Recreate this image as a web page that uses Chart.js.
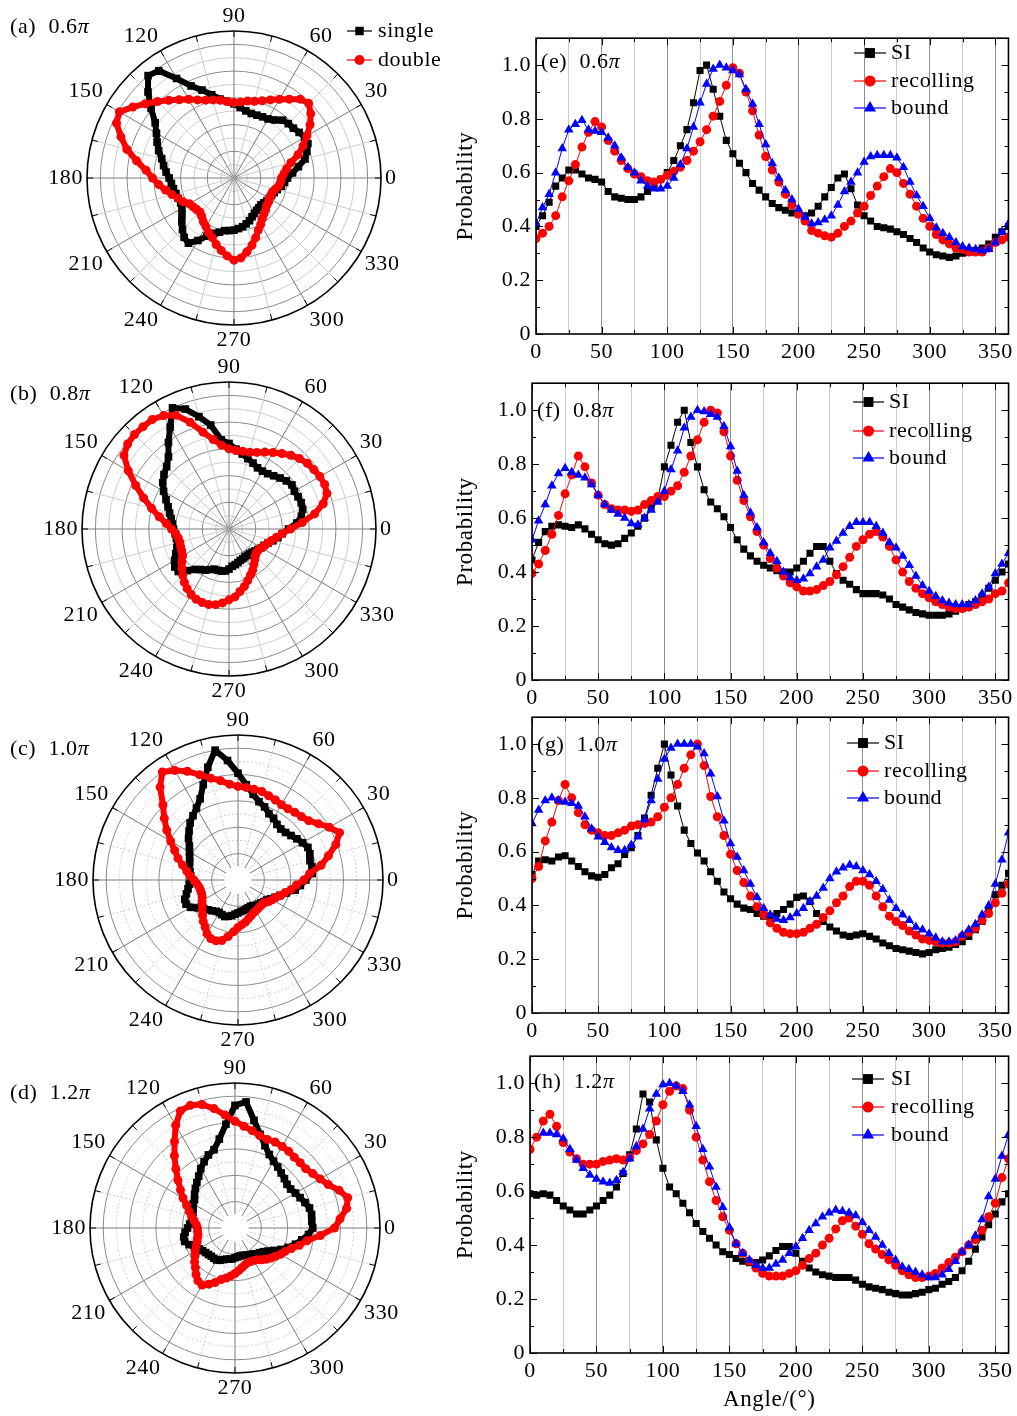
<!DOCTYPE html>
<html>
<head>
<meta charset="utf-8">
<script src="https://cdn.jsdelivr.net/npm/chart.js@4.4.1/dist/chart.umd.min.js"></script>
<style>
  body { margin: 0; background: #fff; }
  #wrap { position: relative; width: 1017px; height: 1416px; overflow: hidden; background: #fff; }
  canvas { position: absolute; }
</style>
</head>
<body>
<div id="wrap">
  <canvas id="pa"></canvas>
  <canvas id="pb"></canvas>
  <canvas id="pc"></canvas>
  <canvas id="pd"></canvas>
  <canvas id="le"></canvas>
  <canvas id="lf"></canvas>
  <canvas id="lg"></canvas>
  <canvas id="lh"></canvas>
</div>
<script>
// angle grid (degrees)
const angles = [0,5,10,15,20,25,30,35,40,45,50,55,60,65,70,75,80,85,90,95,
  100,105,110,115,120,125,130,135,140,145,150,155,160,165,170,175,180,185,190,195,
  200,205,210,215,220,225,230,235,240,245,250,255,260,265,270,275,280,285,290,295,
  300,305,310,315,320,325,330,335,340,345,350,355,360];

// (e) 0.6 pi
const siE = [0.40,0.44,0.49,0.55,0.58,0.61,0.61,0.595,0.58,0.575,
  0.565,0.53,0.51,0.505,0.50,0.50,0.51,0.53,0.555,0.575,
  0.60,0.645,0.70,0.76,0.86,0.98,1.0,0.91,0.81,0.72,
  0.67,0.635,0.60,0.56,0.535,0.51,0.485,0.47,0.46,0.45,
  0.445,0.44,0.45,0.475,0.51,0.545,0.58,0.595,0.54,0.48,
  0.44,0.42,0.40,0.395,0.39,0.38,0.37,0.355,0.34,0.32,
  0.305,0.295,0.29,0.285,0.29,0.30,0.305,0.31,0.32,0.335,
  0.36,0.38,0.40];
const recE = [0.355,0.375,0.40,0.44,0.51,0.57,0.63,0.695,0.75,0.79,
  0.77,0.72,0.68,0.645,0.615,0.595,0.585,0.57,0.565,0.575,
  0.59,0.605,0.62,0.645,0.68,0.715,0.76,0.81,0.865,0.925,
  0.99,0.97,0.90,0.83,0.74,0.66,0.61,0.565,0.52,0.48,
  0.445,0.42,0.385,0.375,0.365,0.36,0.375,0.40,0.42,0.45,
  0.475,0.515,0.55,0.585,0.615,0.60,0.56,0.52,0.475,0.43,
  0.40,0.37,0.35,0.335,0.32,0.315,0.305,0.305,0.305,0.32,
  0.34,0.35,0.36];
const boundE = [0.41,0.47,0.52,0.60,0.69,0.76,0.78,0.795,0.76,0.755,
  0.75,0.73,0.70,0.655,0.62,0.60,0.57,0.55,0.54,0.54,
  0.55,0.58,0.63,0.69,0.77,0.86,0.93,0.985,1.0,0.99,
  0.98,0.965,0.91,0.855,0.78,0.705,0.635,0.58,0.535,0.50,
  0.465,0.435,0.41,0.415,0.425,0.44,0.48,0.53,0.565,0.60,
  0.64,0.66,0.665,0.665,0.665,0.655,0.62,0.565,0.515,0.475,
  0.43,0.395,0.375,0.36,0.34,0.325,0.32,0.315,0.31,0.315,
  0.34,0.38,0.41];

// (f) 0.8 pi
const siF = [0.445,0.51,0.55,0.57,0.575,0.57,0.565,0.575,0.56,0.54,
  0.52,0.505,0.50,0.505,0.525,0.545,0.57,0.60,0.64,0.67,
  0.79,0.87,0.955,1.0,0.88,0.79,0.705,0.66,0.635,0.605,
  0.565,0.52,0.485,0.46,0.44,0.425,0.415,0.405,0.40,0.40,
  0.415,0.44,0.47,0.495,0.495,0.44,0.395,0.37,0.355,0.335,
  0.32,0.32,0.32,0.315,0.30,0.28,0.27,0.26,0.25,0.245,
  0.24,0.24,0.24,0.245,0.255,0.265,0.28,0.29,0.31,0.34,
  0.37,0.40,0.43];
const recF = [0.395,0.43,0.48,0.54,0.61,0.69,0.76,0.83,0.79,0.73,
  0.685,0.65,0.635,0.63,0.63,0.625,0.63,0.65,0.665,0.68,
  0.68,0.70,0.72,0.77,0.83,0.89,0.955,1.0,0.99,0.92,
  0.83,0.74,0.665,0.605,0.55,0.50,0.45,0.415,0.385,0.36,
  0.345,0.33,0.33,0.335,0.35,0.365,0.39,0.42,0.455,0.495,
  0.52,0.54,0.55,0.53,0.495,0.445,0.40,0.365,0.34,0.32,
  0.305,0.29,0.28,0.27,0.265,0.265,0.27,0.28,0.29,0.30,
  0.32,0.33,0.36];
const boundF = [0.52,0.59,0.65,0.72,0.765,0.785,0.77,0.76,0.75,0.725,
  0.685,0.65,0.63,0.615,0.60,0.58,0.575,0.60,0.63,0.66,
  0.70,0.78,0.85,0.935,0.975,1.0,0.995,0.985,0.975,0.94,
  0.865,0.775,0.685,0.62,0.565,0.51,0.47,0.44,0.40,0.38,
  0.37,0.375,0.395,0.42,0.445,0.49,0.515,0.545,0.57,0.585,
  0.585,0.585,0.57,0.545,0.51,0.49,0.46,0.425,0.385,0.35,
  0.33,0.31,0.295,0.285,0.28,0.28,0.28,0.295,0.32,0.345,
  0.395,0.43,0.47];
// (b) polar "double"
const doubleB = [0.46,0.55,0.65,0.73,0.78,0.79,0.785,0.775,0.765,0.745,
  0.72,0.69,0.66,0.635,0.61,0.595,0.59,0.59,0.60,0.63,
  0.68,0.75,0.85,0.94,0.98,1.0,1.0,1.0,0.99,0.96,
  0.87,0.77,0.68,0.60,0.53,0.47,0.43,0.40,0.385,0.38,
  0.385,0.39,0.40,0.43,0.46,0.49,0.52,0.545,0.565,0.58,
  0.585,0.585,0.575,0.555,0.53,0.51,0.475,0.445,0.41,0.38,
  0.355,0.325,0.30,0.28,0.27,0.27,0.28,0.295,0.31,0.33,
  0.36,0.40,0.46];

// (g) 1.0 pi
const siG = [0.515,0.565,0.57,0.565,0.58,0.585,0.565,0.545,0.525,0.51,
  0.505,0.515,0.54,0.555,0.59,0.615,0.66,0.725,0.81,0.91,
  1.0,0.885,0.77,0.68,0.63,0.595,0.565,0.525,0.49,0.45,
  0.425,0.405,0.39,0.385,0.37,0.36,0.36,0.37,0.385,0.405,
  0.43,0.435,0.415,0.37,0.34,0.32,0.305,0.29,0.285,0.29,
  0.295,0.285,0.275,0.26,0.25,0.24,0.235,0.23,0.225,0.22,
  0.225,0.235,0.24,0.245,0.255,0.265,0.285,0.31,0.34,0.38,
  0.44,0.475,0.52];
const recG = [0.50,0.545,0.64,0.71,0.79,0.85,0.80,0.745,0.70,0.68,
  0.67,0.66,0.66,0.67,0.68,0.695,0.70,0.705,0.71,0.73,
  0.765,0.80,0.85,0.91,0.96,1.0,0.92,0.805,0.73,0.66,
  0.59,0.53,0.485,0.435,0.395,0.365,0.335,0.315,0.30,0.295,
  0.295,0.30,0.315,0.33,0.355,0.38,0.41,0.435,0.47,0.49,
  0.49,0.475,0.435,0.395,0.36,0.34,0.325,0.305,0.29,0.275,
  0.27,0.265,0.26,0.26,0.265,0.285,0.30,0.315,0.345,0.37,
  0.41,0.445,0.48];
const boundG = [0.705,0.755,0.79,0.80,0.79,0.785,0.78,0.77,0.73,0.685,
  0.655,0.635,0.615,0.605,0.605,0.625,0.655,0.72,0.79,0.87,
  0.945,0.985,1.0,1.0,1.0,0.99,0.965,0.89,0.805,0.715,
  0.63,0.58,0.53,0.48,0.43,0.39,0.365,0.35,0.345,0.355,
  0.37,0.39,0.415,0.435,0.465,0.50,0.525,0.54,0.55,0.545,
  0.53,0.515,0.49,0.46,0.42,0.39,0.365,0.345,0.32,0.31,
  0.295,0.28,0.265,0.265,0.27,0.29,0.31,0.33,0.365,0.40,
  0.48,0.57,0.67];

// (h) 1.2 pi
const siH = [0.59,0.585,0.59,0.585,0.565,0.545,0.53,0.515,0.515,0.53,
  0.545,0.565,0.585,0.615,0.665,0.735,0.83,0.96,0.93,0.79,
  0.685,0.615,0.59,0.555,0.52,0.48,0.45,0.425,0.40,0.375,
  0.365,0.35,0.34,0.335,0.335,0.345,0.36,0.38,0.395,0.395,
  0.37,0.34,0.315,0.30,0.29,0.285,0.28,0.28,0.28,0.27,
  0.255,0.245,0.24,0.235,0.225,0.22,0.215,0.215,0.22,0.225,
  0.235,0.24,0.255,0.265,0.28,0.305,0.34,0.385,0.43,0.475,
  0.515,0.56,0.59];
const recH = [0.755,0.80,0.86,0.885,0.84,0.78,0.745,0.72,0.70,0.70,
  0.70,0.71,0.715,0.72,0.715,0.725,0.75,0.775,0.81,0.86,
  0.92,0.97,0.99,0.98,0.90,0.80,0.715,0.635,0.565,0.505,
  0.455,0.405,0.37,0.34,0.315,0.295,0.285,0.285,0.285,0.295,
  0.305,0.325,0.35,0.37,0.40,0.425,0.46,0.49,0.50,0.47,
  0.44,0.405,0.385,0.365,0.345,0.325,0.305,0.29,0.28,0.28,
  0.285,0.295,0.315,0.335,0.355,0.375,0.40,0.42,0.455,0.505,
  0.555,0.65,0.72];
const boundH = [null,null,0.815,0.815,0.81,0.795,0.755,0.715,0.685,0.66,
  0.645,0.635,0.63,0.64,0.67,0.72,0.765,0.83,0.905,0.96,
  0.995,1.0,0.99,0.97,0.92,0.84,0.755,0.69,0.615,0.54,
  0.465,0.405,0.37,0.345,0.325,0.315,0.315,0.33,0.345,0.37,
  0.395,0.425,0.455,0.48,0.505,0.52,0.53,0.525,0.52,0.51,
  0.485,0.455,0.43,0.40,0.37,0.345,0.32,0.31,0.30,0.29,
  0.28,0.28,0.29,0.31,0.34,0.375,0.40,0.435,0.495,0.58,
  0.645,0.73,0.81];

const xTicks = [0, 50, 100, 150, 200, 250, 300, 350];
const yTicks = [0, 0.2, 0.4, 0.6, 0.8, 1.0];
const polarTickLabels = [0, 30, 60, 90, 120, 150, 180, 210, 240, 270, 300, 330];

// radar goes clockwise from the right, so walk the angles backwards
const polarAngles = angles.slice(0, 72).map(a => (360 - a) % 360);
function polarValues(series) {
  return polarAngles.map(a => series[angles.indexOf(a)]);
}

const FONT = "'Liberation Serif', 'Times New Roman', serif";
const TXT = 22;
const SPACING = '0.6px';

function place(id, left, top, w, h) {
  const c = document.getElementById(id);
  c.width = w; c.height = h;
  c.style.left = left + 'px'; c.style.top = top + 'px';
  c.style.width = w + 'px'; c.style.height = h + 'px';
  return c;
}

// a bit of tracking so the Times-like face reads closer to the wider original
const spacing = {
  id: 'spacing',
  beforeDraw(chart) { chart.ctx.letterSpacing = SPACING; }
};

function panelLabel(ctx, head, x, y) {
  ctx.save();
  ctx.fillStyle = '#000';
  ctx.textBaseline = 'middle';
  ctx.textAlign = 'left';
  ctx.font = TXT + 'px ' + FONT;
  ctx.fillText(head, x, y);
  const w = ctx.measureText(head).width;
  ctx.font = 'italic ' + TXT + 'px ' + FONT;
  ctx.fillText('\u03c0', x + w, y);
  ctx.restore();
}

function marker(ctx, style, r, x, y, color) {
  ctx.save();
  ctx.fillStyle = color; ctx.strokeStyle = color;
  Chart.helpers.drawPoint(ctx, { pointStyle: style, radius: r, rotation: 0, borderWidth: 0 }, x, y);
  ctx.restore();
}

function legendRows(ctx, rows, x0, x1, tx, ys) {
  rows.forEach((row, i) => {
    const y = ys[i];
    ctx.save();
    ctx.strokeStyle = row.color; ctx.lineWidth = 1.2;
    ctx.beginPath(); ctx.moveTo(x0, y); ctx.lineTo(x1, y); ctx.stroke();
    ctx.restore();
    marker(ctx, row.style, row.r, (x0 + x1) / 2, y, row.color);
    ctx.save();
    ctx.fillStyle = '#000'; ctx.font = TXT + 'px ' + FONT;
    ctx.textBaseline = 'middle'; ctx.textAlign = 'left';
    ctx.fillText(row.text, tx, y);
    ctx.restore();
  });
}

const polarDecor = {
  id: 'polarDecor',
  beforeDatasetsDraw(chart, args, o) {
    const r = chart.scales.r, ctx = chart.ctx;
    const R = r.getDistanceFromCenterForValue(1.1);
    ctx.save();
    if (o.hole) {
      ctx.fillStyle = '#fff';
      ctx.beginPath();
      ctx.arc(r.xCenter, r.yCenter, r.getDistanceFromCenterForValue(0.1) + 0.6, 0, Math.PI * 2);
      ctx.fill();
    }
    ctx.strokeStyle = '#000'; ctx.lineWidth = 1;
    for (let a = 0; a < 360; a += 15) {
      const t = a * Math.PI / 180;
      const c = Math.cos(t), s = -Math.sin(t);
      ctx.beginPath();
      ctx.moveTo(r.xCenter + c * R, r.yCenter + s * R);
      ctx.lineTo(r.xCenter + c * (R - 6), r.yCenter + s * (R - 6));
      ctx.stroke();
    }
    ctx.lineWidth = 1.6;
    ctx.beginPath(); ctx.arc(r.xCenter, r.yCenter, R, 0, Math.PI * 2); ctx.stroke();
    ctx.restore();
  },
  afterDraw(chart, args, o) {
    const ctx = chart.ctx;
    panelLabel(ctx, o.label, o.lx, o.ly);
    if (o.legend) {
      legendRows(ctx, [
        { text: 'single', color: '#000', style: 'rect', r: 6 },
        { text: 'double', color: '#ff0000', style: 'circle', r: 5 }
      ], o.legend.x0, o.legend.x1, o.legend.tx, o.legend.ys);
    }
  }
};

function makePolar(id, box, single, dbl, o) {
  const cv = place(id, box.left, box.top, box.w, box.h);
  new Chart(cv, {
    type: 'radar',
    data: {
      labels: polarAngles,
      datasets: [
        { label: 'double', data: polarValues(dbl), borderColor: '#ff0000', backgroundColor: '#ff0000',
          borderWidth: 6, pointStyle: 'circle', pointRadius: 4.5, pointBorderWidth: 0, pointHoverRadius: 4.5, fill: false, order: 1 },
        { label: 'single', data: polarValues(single), borderColor: '#000000', backgroundColor: '#000000',
          borderWidth: 6, pointStyle: 'rect', pointRadius: 5.4, pointBorderWidth: 0, pointHoverRadius: 5.4, fill: false, order: 2 }
      ]
    },
    options: {
      responsive: false, animation: false, devicePixelRatio: 1,
      elements: { line: { tension: 0, borderJoinStyle: 'round' } },
      scales: {
        r: {
          min: 0, max: 1.1, startAngle: 90,
          ticks: { display: false, stepSize: 0.1 },
          grid: {
            circular: true,
            color: c => {
              const k = Math.round(c.tick.value * 10);
              if (k >= 11) return 'rgba(0,0,0,0)';
              return k % 2 === 0 ? '#8a8a8a' : '#cdcdcd';
            },
            lineWidth: 1
          },
          border: {
            dash: c => (o.dashed && Math.round(c.tick.value * 10) % 2 === 1) ? [2, 2] : []
          },
          angleLines: {
            color: c => (polarAngles[c.index] % 30 === 0 ? '#7a7a7a' : '#cdcdcd'),
            lineWidth: c => (polarAngles[c.index] % 15 === 0 ? 1 : 0),
            borderDash: c => (o.dashed && polarAngles[c.index] % 30 !== 0) ? [2, 2] : []
          },
          pointLabels: {
            color: '#000',
            padding: 4,
            font: { family: FONT, size: TXT, lineHeight: 1 },
            callback: l => (polarTickLabels.includes(+l) ? String(l) : '')
          }
        }
      },
      plugins: {
        legend: { display: false },
        tooltip: { enabled: false },
        polarDecor: {
          hole: o.hole,
          label: o.label, lx: o.lx - box.left, ly: o.ly - box.top,
          legend: o.legend ? {
            x0: o.legend.x0 - box.left, x1: o.legend.x1 - box.left, tx: o.legend.tx - box.left,
            ys: o.legend.ys.map(y => y - box.top)
          } : null
        }
      }
    },
    plugins: [spacing, polarDecor]
  });
}

const lineDecor = {
  id: 'lineDecor',
  afterDatasetsDraw(chart, args, o) {
    const { ctx, chartArea: a, scales: { x, y } } = chart;
    ctx.save();
    ctx.strokeStyle = '#000'; ctx.lineWidth = 1;
    for (let v = 0; v <= 360; v += 25) {
      const px = Math.round(x.getPixelForValue(v)) + 0.5;
      const len = v % 50 === 0 ? 7 : 4;
      ctx.beginPath();
      ctx.moveTo(px, a.bottom); ctx.lineTo(px, a.bottom - len);
      ctx.moveTo(px, a.top); ctx.lineTo(px, a.top + len);
      ctx.stroke();
    }
    for (let k = 0; k <= 11; k++) {
      const py = Math.round(y.getPixelForValue(k / 10)) + 0.5;
      const len = k % 2 === 0 ? 7 : 4;
      ctx.beginPath();
      ctx.moveTo(a.left, py); ctx.lineTo(a.left + len, py);
      ctx.moveTo(a.right, py); ctx.lineTo(a.right - len, py);
      ctx.stroke();
    }
    ctx.lineWidth = 1.6;
    ctx.strokeRect(a.left, a.top, a.right - a.left, a.bottom - a.top);
    ctx.restore();
    panelLabel(ctx, o.label, o.lx, o.ly);
    legendRows(ctx, [
      { text: 'SI', color: '#000', style: 'rect', r: 7 },
      { text: 'recolling', color: '#ff0000', style: 'circle', r: 5.5 },
      { text: 'bound', color: '#0000ff', style: 'triangle', r: 7 }
    ], o.leg.x0, o.leg.x1, o.leg.tx, o.leg.ys);
  }
};

function makeLine(id, box, si, rec, bound, o) {
  const cv = place(id, box.left, box.top, box.w, box.h);
  const pts = arr => angles.map((a, i) => ({ x: a, y: arr[i] }));
  const tickFont = { family: FONT, size: TXT };
  new Chart(cv, {
    type: 'line',
    data: {
      datasets: [
        { label: 'SI', data: pts(si), borderColor: '#000', backgroundColor: '#000', borderWidth: 1,
          pointStyle: 'rect', pointRadius: 5, pointBorderWidth: 0, order: 3 },
        { label: 'recolling', data: pts(rec), borderColor: '#ff0000', backgroundColor: '#ff0000', borderWidth: 1,
          pointStyle: 'circle', pointRadius: 4.5, pointBorderWidth: 0, order: 2 },
        { label: 'bound', data: pts(bound), borderColor: '#0000ff', backgroundColor: '#0000ff', borderWidth: 1,
          pointStyle: 'triangle', pointRadius: 5.5, pointBorderWidth: 0, order: 1 }
      ]
    },
    options: {
      responsive: false, animation: false, devicePixelRatio: 1,
      elements: { line: { tension: 0 } },
      layout: { padding: { top: box.padTop, right: box.padRight, left: 0, bottom: 0 } },
      scales: {
        x: {
          type: 'linear', min: 0, max: 360,
          ticks: {
            stepSize: 25, autoSkip: false, maxRotation: 0, includeBounds: false,
            callback: v => (xTicks.includes(v) ? String(v) : ''),
            font: tickFont, color: '#000', padding: 5
          },
          grid: {
            color: c => (c.tick && c.tick.value % 50 === 0 ? '#8f8f8f' : '#cccccc'),
            lineWidth: 1, drawTicks: false
          },
          border: { display: false },
          title: { display: !!o.xTitle, text: o.xTitle || '', font: { family: FONT, size: 23 }, color: '#000', padding: { top: 0, bottom: 1 } },
          afterFit: s => { s.height = box.xh; }
        },
        y: {
          min: 0, max: 1.1,
          ticks: {
            stepSize: 0.2, includeBounds: false,
            callback: v => {
              const t = yTicks.find(q => Math.abs(q - v) < 1e-6);
              return t === undefined ? '' : (t === 0 ? '0' : t.toFixed(1));
            },
            font: tickFont, color: '#000', padding: 5
          },
          grid: { display: false, drawTicks: false },
          border: { display: false },
          title: { display: true, text: 'Probability', font: { family: FONT, size: 23 }, color: '#000', padding: { top: 466 - box.left - 14, bottom: 0 } },
          afterFit: s => { s.width = 96; }
        }
      },
      plugins: {
        legend: { display: false },
        tooltip: { enabled: false },
        lineDecor: {
          label: o.label, lx: o.lx - box.left, ly: o.ly - box.top,
          leg: { x0: o.leg.x0 - box.left, x1: o.leg.x1 - box.left, tx: o.leg.tx - box.left, ys: o.leg.ys.map(v => v - box.top) }
        }
      }
    },
    plugins: [spacing, lineDecor]
  });
}

makePolar('pa', { left: 0, top: 5, w: 468, h: 346 }, siE, recE,
  { label: '(a)  0.6', lx: 10, ly: 27, hole: false, dashed: false,
    legend: { x0: 347, x1: 372, tx: 378, ys: [31, 60] } });
makePolar('pb', { left: 0, top: 356, w: 458, h: 346 }, siF, doubleB,
  { label: '(b)  0.8', lx: 10, ly: 394, hole: false, dashed: false });
makePolar('pc', { left: 0, top: 709, w: 476, h: 342 }, siG, recG,
  { label: '(c)  1.0', lx: 10, ly: 749, hole: true, dashed: true });
makePolar('pd', { left: 0, top: 1057, w: 470, h: 342 }, siH, recH,
  { label: '(d)  1.2', lx: 10, ly: 1093, hole: true, dashed: true });

makeLine('le', { left: 440, top: 20, w: 577, h: 344, padTop: 18, padRight: 3, xh: 30 }, siE, recE, boundE,
  { label: '(e)  0.6', lx: 541, ly: 62, leg: { x0: 854, x1: 886, tx: 891, ys: [53, 81, 108] } });
makeLine('lf', { left: 436, top: 365, w: 581, h: 345, padTop: 18, padRight: 6, xh: 30 }, siF, recF, boundF,
  { label: '(f)  0.8', lx: 537, ly: 411, leg: { x0: 853, x1: 884, tx: 889, ys: [402, 431, 458] } });
makeLine('lg', { left: 436, top: 699, w: 581, h: 344, padTop: 18, padRight: 7, xh: 30 }, siG, recG, boundG,
  { label: '(g)  1.0', lx: 537, ly: 745, leg: { x0: 847, x1: 879, tx: 884, ys: [743, 771, 798] } });
makeLine('lh', { left: 434, top: 1038, w: 583, h: 377, padTop: 18, padRight: 8, xh: 62 }, siH, recH, boundH,
  { label: '(h)  1.2', lx: 534, ly: 1082, xTitle: 'Angle/(\u00b0)', leg: { x0: 852, x1: 884, tx: 891, ys: [1079, 1107, 1135] } });
</script>
</body>
</html>
